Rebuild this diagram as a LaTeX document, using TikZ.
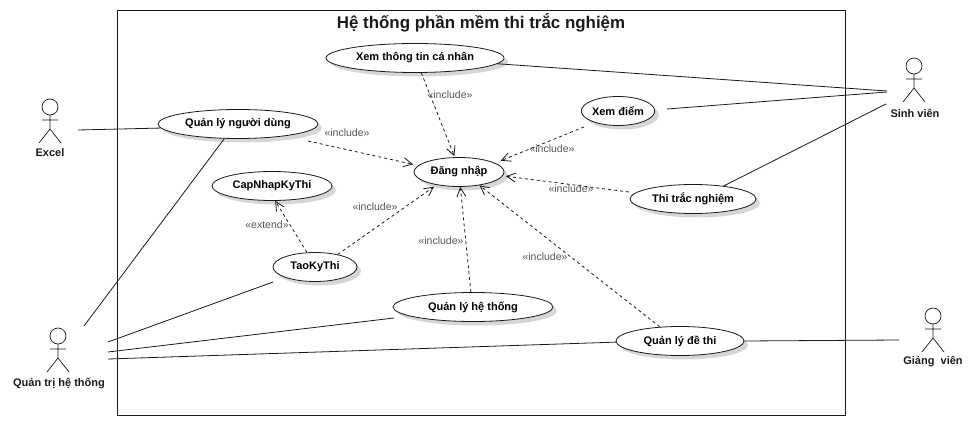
\documentclass[tikz,border=0pt]{standalone}
\usepackage{fontspec}
\setmainfont{Liberation Sans}
\usepackage{xcolor}
\usetikzlibrary{arrows.meta,shapes.geometric,shadows}
\definecolor{ink}{HTML}{1A1A1A}
\definecolor{inkgray}{HTML}{555555}
\definecolor{shade}{HTML}{D6D6D6}
\tikzset{
  usecase/.style={ellipse,draw=ink,fill=white,line width=0.8pt,inner sep=0pt,
                  minimum height=29pt,font=\fontsize{11}{13}\selectfont\bfseries,
                  drop shadow={shadow xshift=4pt,shadow yshift=-4pt,fill=shade,opacity=1}},
  actorname/.style={font=\fontsize{11}{13}\selectfont\bfseries,text=ink,inner sep=0pt},
  stereo/.style={font=\fontsize{10.5}{12}\selectfont,text=inkgray,inner sep=0pt},
  assoc/.style={draw=ink,line width=0.8pt},
  dep/.style={-{Straight Barb[length=9pt,width=9pt]},dashed,dash pattern=on 3pt off 3pt,
              line width=0.8pt,draw=ink},
  sysbox/.style={draw=ink,line width=0.8pt,inner sep=0pt,minimum width=728pt,minimum height=405pt},
  actorfig/.pic={
    \draw[draw=ink,line width=0.7pt] (0,0) circle (8pt);
    \draw[draw=ink,line width=0.7pt] (0,8) -- (0,22) (-8,13) -- (8,13)
      (-11,36) -- (0,22) -- (11,36);
  }
}
\begin{document}
\begin{tikzpicture}[x=1pt,y=-1pt]
    \useasboundingbox (0,0) rectangle (974,422);

    \node[sysbox] (heThong) at (481,212.5) {};
    \node[font=\fontsize{16.9}{20}\selectfont\bfseries,text=ink,inner sep=0pt] (tieuDe) at (481,23)
      {Hệ thống phần mềm thi trắc nghiệm};

    % actors
    \pic at (50,107) {actorfig};
    \node[actorname] (excel) at (50,153) {Excel};
    \pic at (914,66) {actorfig};
    \node[actorname] (sinhVien) at (915,113) {Sinh viên};
    \pic at (58,336) {actorfig};
    \node[actorname] (quanTri) at (59,383) {Quản trị hệ thống};
    \pic at (933,316) {actorfig};
    \node[actorname] (giangVien) at (933,362) {Giảng\ \ viên};

    % use cases
    \node[usecase,minimum width=178pt] (xemTT) at (415,58) {Xem thông tin cá nhân};
    \node[usecase,minimum width=72pt] (xemDiem) at (618,111) {Xem điểm};
    \node[usecase,minimum width=160pt] (qlNguoiDung) at (238,124) {Quản lý người dùng};
    \node[usecase,minimum width=90pt] (dangNhap) at (459,172) {Đăng nhập};
    \node[usecase,minimum width=120pt] (capNhap) at (272,186) {CapNhapKyThi};
    \node[usecase,minimum width=126pt] (thiTN) at (693,199) {Thi trắc nghiệm};
    \node[usecase,minimum width=84pt] (taoKy) at (315,267) {TaoKyThi};
    \node[usecase,minimum width=160pt] (qlHeThong) at (473,307) {Quản lý hệ thống};
    \node[usecase,minimum width=128pt] (qlDeThi) at (680,341) {Quản lý đề thi};

    % free ends
    \coordinate (excelR) at (78,130);
    \coordinate (quanTriA) at (84,326);
    \coordinate (quanTriB) at (108,342);
    \coordinate (quanTriC) at (108,352);
    \coordinate (quanTriD) at (108,359);
    \coordinate (giangVienL) at (899,340);
    \coordinate (sinhVienA) at (887,91);
    \coordinate (sinhVienB) at (887,92);
    \coordinate (sinhVienC) at (886,104);
    \coordinate (qlNguoiDungR) at (308,141);
    \coordinate (xemDiemL) at (584,127);
    \coordinate (xemDiemR) at (667,109);
    \coordinate (thiTNL) at (629,192);
    \coordinate (taoKyL) at (273,282);
    \coordinate (qlHeThongL) at (394,318);

    \draw[assoc] (excelR) -- (qlNguoiDung.183);
    \draw[assoc] (quanTriA) -- (qlNguoiDung.227);
    \draw[assoc] (quanTriB) -- (taoKyL);
    \draw[assoc] (quanTriC) -- (qlHeThongL);
    \draw[assoc] (quanTriD) -- (qlDeThi.181);
    \draw[assoc] (qlDeThi.east) -- (giangVienL);
    \draw[assoc] (xemTT.-4) -- (sinhVienA);
    \draw[assoc] (xemDiemR) -- (sinhVienB);
    \draw[assoc] (thiTN.23) -- (sinhVienC);

    \draw[dep,shorten >=1pt] (xemTT.-67) -- (dangNhap.106);
    \draw[dep,shorten >=5pt] (qlNguoiDungR) -- (dangNhap.171);
    \draw[dep,shorten >=6pt] (xemDiemL) -- (dangNhap.14);
    \draw[dep,shorten >=3pt] (thiTNL) -- (dangNhap.-5);
    \draw[dep,shorten >=3pt] (taoKy.29) -- (dangNhap.-150);
    \draw[dep] (qlHeThong.98) -- (dangNhap.-85);
    \draw[dep] (qlDeThi.145) -- (dangNhap.-33);
    \draw[dep] (taoKy.119) -- (capNhap.-78);

    \node[stereo] (lblA) at (450,95) {«include»};
    \node[stereo] (lblB) at (347,133) {«include»};
    \node[stereo] (lblC) at (552,149) {«include»};
    \node[stereo] (lblD) at (571,189) {«include»};
    \node[stereo] (lblE) at (375,207) {«include»};
    \node[stereo] (lblF) at (441,241) {«include»};
    \node[stereo] (lblG) at (545,257) {«include»};
    \node[stereo] (lblH) at (267,225) {«extend»};
  \end{tikzpicture}
\end{document}
